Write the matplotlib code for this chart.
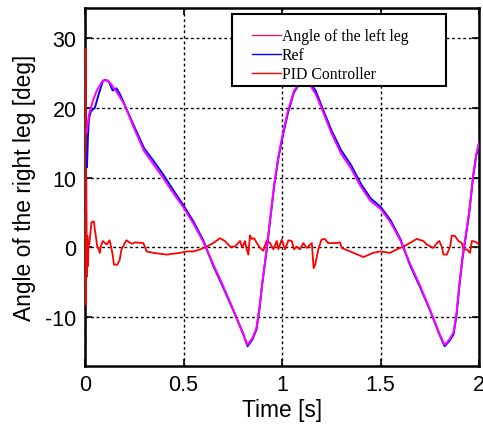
import matplotlib
matplotlib.use("Agg")
import matplotlib.pyplot as plt
from matplotlib.lines import Line2D
from matplotlib.patches import Rectangle
import numpy as np

# reference trajectory (blue)
t_ref = [0.01, 0.015, 0.02, 0.03, 0.05, 0.07, 0.09, 0.1, 0.12, 0.14, 0.16, 0.18, 0.2,
         0.25, 0.3, 0.35, 0.4, 0.45, 0.5, 0.55, 0.6, 0.65, 0.7, 0.75, 0.8, 0.825,
         0.85, 0.87, 0.885, 0.9, 0.92, 0.94, 0.96, 0.98, 1.0, 1.03, 1.06, 1.1, 1.13,
         1.15, 1.17, 1.2, 1.25, 1.3, 1.35, 1.4, 1.45, 1.5, 1.55, 1.6, 1.65, 1.7,
         1.75, 1.8, 1.825, 1.85, 1.87, 1.885, 1.9, 1.915, 1.93, 1.95, 1.97, 1.985, 2.0]
v_ref = [11.5, 16.0, 18.5, 19.5, 20.0, 22.0, 23.8, 24.0, 23.8, 22.5, 22.8, 21.8, 20.5,
         17.3, 14.2, 12.3, 10.3, 8.1, 6.0, 3.7, 1.0, -2.6, -5.7, -8.9, -12.2, -14.2,
         -13.2, -11.8, -8.9, -5.1, -0.8, 4.0, 8.8, 12.6, 15.5, 19.3, 22.2, 24.0, 23.8,
         23.2, 22.5, 20.3, 16.8, 13.9, 11.8, 9.1, 7.0, 5.8, 3.9, 1.2, -2.6, -5.7,
         -9.0, -12.6, -14.2, -13.4, -12.5, -9.8, -5.5, -1.7, 1.1, 5.0, 10.2, 13.1, 15.0]

# left leg angle (magenta)
t_left = [0.008, 0.02, 0.04, 0.06, 0.09, 0.11, 0.13, 0.16, 0.2, 0.25, 0.3, 0.35, 0.4,
          0.45, 0.5, 0.55, 0.6, 0.65, 0.7, 0.75, 0.8, 0.825, 0.85, 0.87, 0.885, 0.9,
          0.92, 0.94, 0.96, 0.98, 1.0, 1.03, 1.06, 1.1, 1.13, 1.15, 1.17, 1.2, 1.25,
          1.3, 1.35, 1.4, 1.45, 1.5, 1.55, 1.6, 1.65, 1.7, 1.75, 1.8, 1.825, 1.85,
          1.87, 1.885, 1.9, 1.915, 1.93, 1.95, 1.97, 1.985, 2.0]
v_left = [16.5, 19.0, 21.0, 22.5, 23.9, 24.0, 23.5, 22.3, 20.5, 17.0, 13.8, 11.8, 9.8,
          7.7, 5.7, 3.4, 0.8, -2.4, -5.5, -8.8, -12.3, -14.0, -13.0, -11.6, -8.7, -5.0,
          -0.7, 4.2, 9.0, 12.8, 15.8, 19.6, 22.4, 24.0, 23.6, 22.9, 22.0, 20.0, 16.4,
          13.4, 11.3, 8.7, 6.6, 5.5, 3.6, 1.0, -2.4, -5.5, -8.9, -12.5, -14.0, -13.2,
          -12.2, -9.5, -5.2, -1.5, 1.3, 5.2, 10.4, 13.3, 15.0]

# PID controller output (red)
t_pid = [0.004, 0.005, 0.006, 0.01, 0.012, 0.015, 0.018, 0.022, 0.033, 0.045, 0.05,
         0.055, 0.062, 0.07, 0.075, 0.08, 0.09, 0.11, 0.125, 0.135, 0.14, 0.147, 0.164,
         0.176, 0.185, 0.21, 0.237, 0.254, 0.296, 0.313, 0.347, 0.414, 0.482, 0.516,
         0.55, 0.584, 0.618, 0.651, 0.685, 0.71, 0.736, 0.761, 0.787, 0.795, 0.8,
         0.812, 0.82, 0.829, 0.837, 0.846, 0.858, 0.872, 0.889, 0.905, 0.922, 0.939,
         0.956, 0.973, 0.981, 0.998, 1.015, 1.032, 1.049, 1.061, 1.074, 1.091, 1.108,
         1.125, 1.151, 1.16, 1.168, 1.184, 1.2, 1.217, 1.234, 1.277, 1.294, 1.303,
         1.345, 1.413, 1.463, 1.497, 1.548, 1.582, 1.616, 1.666, 1.683, 1.717, 1.734,
         1.768, 1.785, 1.798, 1.81, 1.819, 1.836, 1.853, 1.861, 1.878, 1.895, 1.912,
         1.92, 1.937, 1.954, 1.963, 1.98, 2.0]
v_pid = [28.5, -8.2, 10.0, -4.2, 1.6, -2.7, 0.6, 0.5, 3.6, 3.7, 2.5,
         1.6, 0.1, -0.3, -0.8, 0.1, 0.9, 0.4, 1.0, -0.3, -1.0, -2.5, -2.5,
         -1.8, -0.3, 1.0, 0.5, 0.7, 0.6, -0.6, -0.8, -1.05, -0.8, -0.6,
         -0.6, -0.3, 0.1, 0.6, 1.3, 0.9, 0.1, 0.1, 0.9, 0.1, 0.1,
         0.9, -0.3, -1.05, 1.7, 1.2, 1.3, 0.6, -0.1, -0.5, 1.0, 0.6,
         -0.3, 0.9, -0.3, 1.1, -0.3, 1.0, 0.9, -0.3, 0.1, -0.3, 0.6,
         -0.1, 0.6, -3.0, -2.5, -0.3, 1.1, 1.2, 0.6, 0.6, 0.7, -0.1,
         -0.6, -1.4, -0.8, -0.6, -0.8, -0.3, 0.1, 0.9, 1.2, 0.9, 0.4,
         -0.1, 0.6, 0.9, 0.1, -1.05, -1.05, 0.1, 1.7, 1.6, 0.9, 0.6,
         -0.3, -0.3, -0.8, 0.9, 0.8, 0.4]

xticks = [0, 0.5, 1, 1.5, 2]
xticklabels = ["0", "0.5", "1", "1.5", "2"]
yticks = [-10, 0, 10, 20, 30]
yticklabels = ["-10", "0", "10", "20", "30"]

plt.rcParams['font.family'] = ['Liberation Sans', 'DejaVu Sans']

fig = plt.figure(figsize=(4.83, 4.35), dpi=100)
ax = fig.add_axes([0.176, 0.156, 0.816, 0.823])

ax.plot(t_pid, v_pid, color='#ff0000', lw=1.3, zorder=3)
ax.plot(t_ref, v_ref, color='#0000ff', lw=1.4, zorder=3)
ax.plot(t_left, v_left, color='#ff00ff', lw=1.4, zorder=4)

ax.set_xlim(0, 2)
ax.set_ylim(-17.05, 34.3)
ax.set_xticks(xticks)
ax.set_xticklabels(xticklabels)
ax.set_yticks(yticks)
ax.set_yticklabels(yticklabels)
ax.tick_params(direction='in', length=5, width=1.2, labelsize=15.5,
               top=True, right=True, pad=6)
for s in ax.spines.values():
    s.set_linewidth(1.8)
ax.grid(True, color='black', linestyle=(0, (2, 2)), linewidth=1.0)
ax.set_axisbelow(True)

ax.set_xlabel("Time [s]", fontsize=16.4, labelpad=2)
ax.set_ylabel("Angle of the right leg [deg]", fontsize=16.4, labelpad=7)

# legend box (drawn separately so the padding matches)
x0, x1 = 232 / 483, 446 / 483
y0, y1 = 1 - 87 / 435, 1 - 15 / 435
box = Rectangle((x0, y0), x1 - x0, y1 - y0, transform=fig.transFigure,
                facecolor='white', edgecolor='black', lw=1.5, zorder=9)
fig.add_artist(box)

handles = [Line2D([], [], color='#d0206a', lw=1.0),
           Line2D([], [], color='#0000ff', lw=1.0),
           Line2D([], [], color='#ff0000', lw=1.0)]
labels = ["Angle of the left leg", "Ref", "PID Controller"]
leg = fig.legend(handles, labels, loc='upper left',
                 bbox_to_anchor=(252 / 483, 1 - 29 / 435),
                 bbox_transform=fig.transFigure,
                 prop={'family': 'Liberation Serif', 'size': 11.3},
                 handlelength=1.85, handletextpad=0.05, labelspacing=0.2,
                 borderpad=0, borderaxespad=0, frameon=False)
leg.set_zorder(10)

fig.savefig("out.png", dpi=100)
